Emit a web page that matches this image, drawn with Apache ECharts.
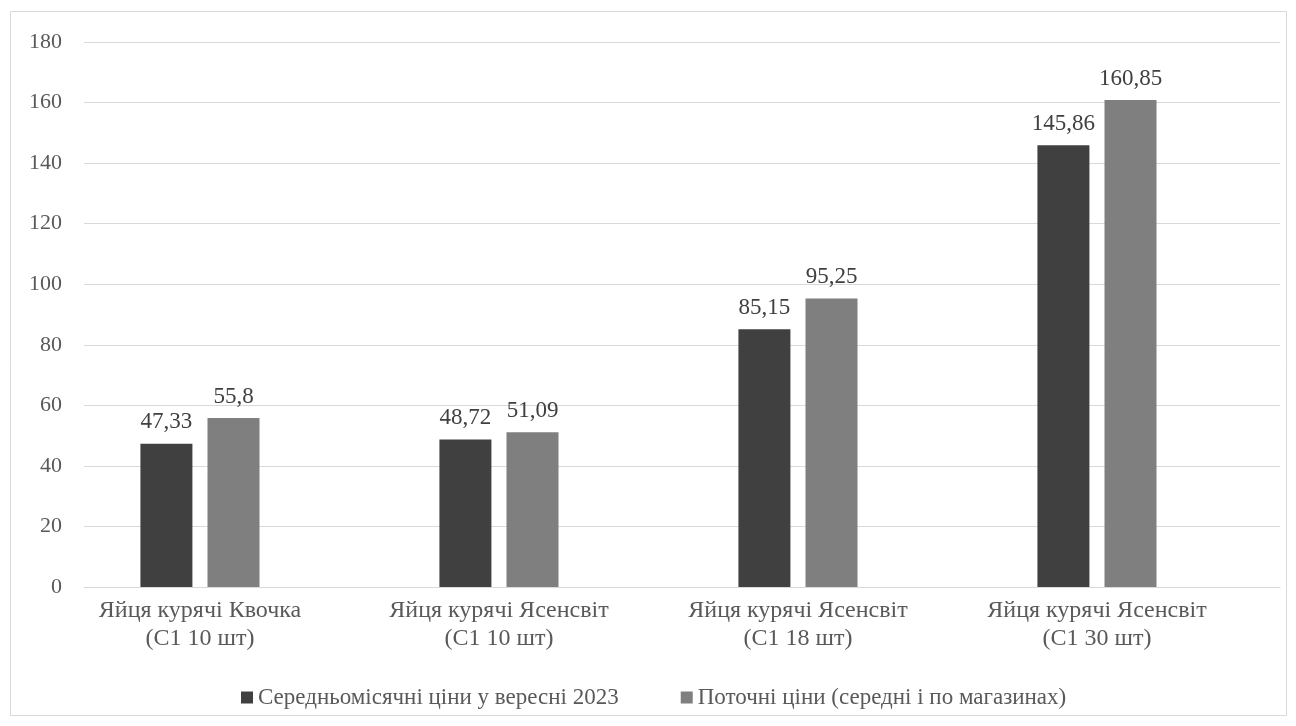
<!DOCTYPE html>
<html><head><meta charset="utf-8">
<script src="https://cdn.jsdelivr.net/npm/echarts@6/dist/echarts.min.js"></script>
<style>html,body{margin:0;padding:0;background:#fff}#c{width:1296px;height:726px}</style>
</head><body><div id="c"></div>
<script>
const categories = ['Яйця курячі Квочка\n(С1 10 шт)', 'Яйця курячі Ясенсвіт\n(С1 10 шт)', 'Яйця курячі Ясенсвіт\n(С1 18 шт)', 'Яйця курячі Ясенсвіт\n(С1 30 шт)'];
const seriesNames = ['Середньомісячні ціни у вересні 2023', 'Поточні ціни (середні і по магазинах)'];
const septPrices = [47.33, 48.72, 85.15, 145.86];
const currentPrices = [55.8, 51.09, 95.25, 160.85];
const spacer = [null, null, null, null];
const yTicks = {min: 0, max: 180, interval: 20};

const font = '"Liberation Serif", "Times New Roman", serif';
const fmt = p => String(p.value).replace('.', ',');
const chart = echarts.init(document.getElementById('c'));
chart.setOption({
  animation: false,
  textStyle: {fontFamily: font},
  graphic: [{type: 'rect', shape: {x: 10.5, y: 11.5, width: 1276, height: 704}, style: {fill: 'none', stroke: '#d9d9d9', lineWidth: 1}, silent: true}],
  grid: {left: 84, right: 16, top: 42, bottom: 139},
  legend: {
    data: seriesNames, left: 236, top: 681, icon: 'rect', itemWidth: 12, itemHeight: 12, itemGap: 62,
    textStyle: {fontFamily: font, fontSize: 23, color: '#595959'}
  },
  xAxis: {
    type: 'category', data: categories,
    axisLine: {lineStyle: {color: '#d9d9d9', width: 1}}, axisTick: {show: false},
    axisLabel: {fontFamily: font, fontSize: 24, color: '#595959', lineHeight: 28, margin: 10, padding: [0, 67, 0, 0]}
  },
  yAxis: {
    type: 'value', min: yTicks.min, max: yTicks.max, interval: yTicks.interval,
    axisLine: {show: false}, axisTick: {show: false},
    splitLine: {lineStyle: {color: '#d9d9d9', width: 1}},
    axisLabel: {fontFamily: font, fontSize: 22, color: '#595959', margin: 22}
  },
  series: [
    {name: seriesNames[0], type: 'bar', data: septPrices, barWidth: 52, barGap: '29%', itemStyle: {color: '#404040'},
     label: {show: true, position: 'top', distance: 10, formatter: fmt, fontFamily: font, fontSize: 23, color: '#404040'}},
    {name: seriesNames[1], type: 'bar', data: currentPrices, barWidth: 52, barGap: '29%', itemStyle: {color: '#7f7f7f'},
     label: {show: true, position: 'top', distance: 10, formatter: fmt, fontFamily: font, fontSize: 23, color: '#404040'}},
    {name: 'spacer', type: 'bar', data: spacer, barWidth: 52, barGap: '29%', silent: true}
  ]
});
</script></body></html>
